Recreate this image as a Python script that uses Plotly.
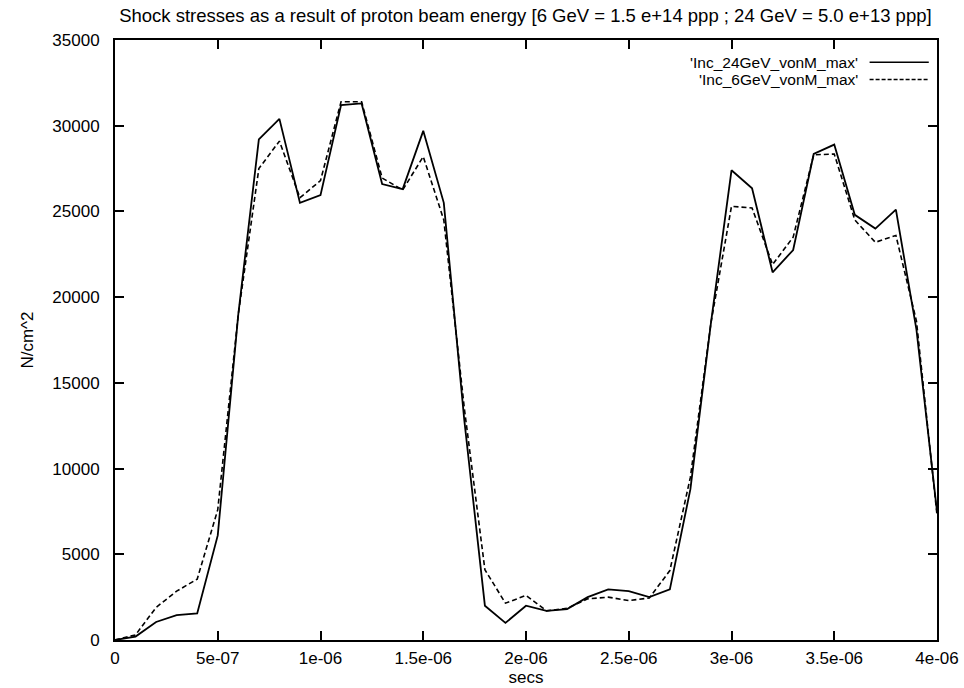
import plotly.graph_objects as go

# time in units of 1e-7 s
t_steps = list(range(0, 41))
secs = [k * 1e-7 for k in t_steps]

inc_24GeV = [0, 200, 1050, 1450, 1550, 6100, 19000, 29200, 30400, 25500,
             25950, 31200, 31300, 26600, 26300, 29700, 25500, 12800, 2000, 1000,
             2000, 1700, 1800, 2500, 2950, 2850, 2500, 2950, 8800, 18500,
             27400, 26350, 21450, 22750, 28350, 28900, 24800, 24000, 25100, 18100,
             7500]
inc_6GeV = [0, 300, 1900, 2850, 3550, 7600, 19000, 27500, 29100, 25800,
            26800, 31400, 31400, 26950, 26250, 28200, 24500, 13500, 4100, 2150,
            2600, 1700, 1850, 2400, 2500, 2300, 2450, 4050, 9500, 18500,
            25300, 25200, 21900, 23500, 28300, 28350, 24500, 23200, 23600, 18600,
            7300]

x_tickvals = [0, 5e-7, 1e-6, 1.5e-6, 2e-6, 2.5e-6, 3e-6, 3.5e-6, 4e-6]
x_ticktext = ["0", "5e-07", "1e-06", "1.5e-06", "2e-06", "2.5e-06", "3e-06", "3.5e-06", "4e-06"]
y_tickvals = [0, 5000, 10000, 15000, 20000, 25000, 30000, 35000]
y_ticktext = ["0", "5000", "10000", "15000", "20000", "25000", "30000", "35000"]

series_names = ["'Inc_24GeV_vonM_max'", "'Inc_6GeV_vonM_max'"]
title_text = "Shock stresses as a result of proton beam energy [6 GeV = 1.5 e+14 ppp ; 24 GeV = 5.0 e+13 ppp]"

FONT = "Liberation Sans, Arial, sans-serif"

fig = go.Figure()
fig.add_trace(go.Scatter(x=secs, y=inc_24GeV, mode="lines", name=series_names[0],
                         line=dict(color="black", width=1.8, dash="solid"), showlegend=False))
fig.add_trace(go.Scatter(x=secs, y=inc_6GeV, mode="lines", name=series_names[1],
                         line=dict(color="black", width=1.6, dash="5px,3px"), showlegend=False))

# manual gnuplot-style legend (text right-aligned, sample on the right)
legend_y = [0.963, 0.934]
dashes = ["solid", "4px,2px"]
for name, ly, d in zip(series_names, legend_y, dashes):
    fig.add_annotation(x=0.905, y=ly, xref="paper", yref="paper", text=name,
                       showarrow=False, xanchor="right", yanchor="middle",
                       borderpad=0,
                       font=dict(family=FONT, size=15.5, color="black"))
    fig.add_shape(type="line", xref="paper", yref="paper", x0=0.918, x1=0.99, y0=ly, y1=ly,
                  line=dict(color="black", width=1.5, dash=d))

fig.update_layout(
    width=964, height=688,
    margin=dict(l=115, r=27, t=40, b=48, autoexpand=False),
    paper_bgcolor="white", plot_bgcolor="white",
    font=dict(family=FONT, size=17, color="black"),
    title=dict(text=title_text, x=0.545, xanchor="center", y=0.977, yanchor="middle",
               font=dict(family=FONT, size=18.5, color="black")),
)
fig.update_xaxes(range=[0, 4e-6], tickvals=x_tickvals, ticktext=x_ticktext,
                 ticks="inside", ticklen=9, tickwidth=1.5, tickcolor="black",
                 showline=True, linecolor="black", linewidth=2, mirror="ticks",
                 showgrid=False, zeroline=False, ticklabelstandoff=2, automargin=False,
                 title=dict(text="secs", standoff=0, font=dict(family=FONT, size=17)),
                 tickfont=dict(family=FONT, size=17))
fig.update_yaxes(range=[0, 35000], tickvals=y_tickvals, ticktext=y_ticktext,
                 ticks="inside", ticklen=9, tickwidth=1.5, tickcolor="black",
                 showline=True, linecolor="black", linewidth=2, mirror="ticks",
                 showgrid=False, zeroline=False, ticklabelstandoff=10, automargin=False,
                 title=dict(text="N/cm^2", standoff=14, font=dict(family=FONT, size=17)),
                 tickfont=dict(family=FONT, size=17))

fig.write_html("out.html")
